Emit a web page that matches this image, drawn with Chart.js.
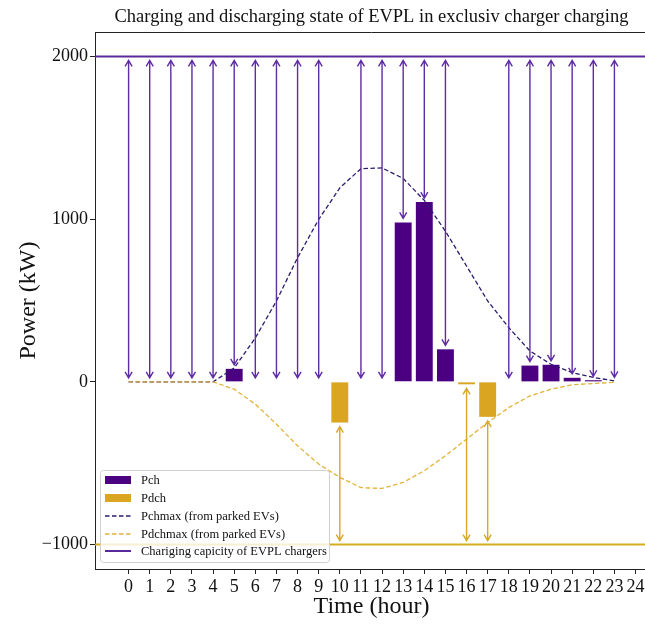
<!DOCTYPE html>
<html>
<head>
<meta charset="utf-8">
<script src="https://cdn.jsdelivr.net/npm/chart.js@4.4.1/dist/chart.umd.min.js"></script>
<style>
  html, body { margin: 0; padding: 0; background: #fff; overflow: hidden; }
</style>
</head>
<body>
<canvas id="chart" width="650" height="624"></canvas>
<script>
const hours = [0, 1, 2, 3, 4, 5, 6, 7, 8, 9, 10, 11, 12, 13, 14, 15, 16, 17, 18, 19, 20, 21, 22, 23];
const pch = [0, 0, 0, 0, 0, 80, 0, 0, 0, 0, 0, 0, 0, 980, 1105, 200, 0, 0, 0, 100, 105, 25, 10, 3];
const pdch = [0, 0, 0, 0, 0, 0, 0, 0, 0, 0, -250, 0, 0, 0, 0, 0, -15, -215, 0, 0, 0, 0, 0, 0];
const pchmax = [0, 0, 0, 0, 0, 85, 270, 497, 763, 998, 1192, 1310, 1315, 1250, 1115, 926, 712, 497, 333, 190, 108, 57, 27, 6];
const pdchmax = [0, 0, 0, 0, 0, -45, -137, -260, -393, -505, -587, -650, -655, -618, -546, -454, -352, -250, -158, -86, -45, -18, -10, -3];
const chargerCapacity = 2000;
const dischargerCapacity = -1000;
const xTicks = Array.from({ length: 25 }, (_, i) => i);
const yTicks = [-1000, 0, 1000, 2000];
const legendLabels = ['Pch', 'Pdch', 'Pchmax (from parked EVs)', 'Pdchmax (from parked EVs)', 'Chariging capicity of EVPL chargers'];
const titleText = 'Charging and discharging state of EVPL in exclusiv charger charging';

const serif = "'Liberation Serif', 'Times New Roman', serif";
const colors = {
  pch: '#4b0082',
  pdch: '#daa520',
  pchmax: '#2e1a6e',
  pdchmax: '#e2b33a',
  arrowCh: '#5e2ca5',
  arrowDch: '#d8a62a',
  capCh: '#5a2a9c',
  capDch: '#d4ae1e',
};

function drawArrow(ctx, x, y1, y2, color) {
  const head = 6, half = 3.5;
  ctx.save();
  ctx.strokeStyle = color;
  ctx.lineWidth = 1.4;
  ctx.beginPath();
  ctx.moveTo(x, y1);
  ctx.lineTo(x, y2);
  const dir = y2 > y1 ? 1 : -1;
  // head at y2
  ctx.moveTo(x - half, y2 - dir * head);
  ctx.lineTo(x, y2);
  ctx.lineTo(x + half, y2 - dir * head);
  // head at y1
  ctx.moveTo(x - half, y1 + dir * head);
  ctx.lineTo(x, y1);
  ctx.lineTo(x + half, y1 + dir * head);
  ctx.stroke();
  ctx.restore();
}

const overlayPlugin = {
  id: 'overlay',
  afterDatasetsDraw(chart) {
    const { ctx, chartArea, scales: { x, y } } = chart;

    // capacity lines
    ctx.save();
    ctx.lineWidth = 2;
    ctx.strokeStyle = colors.capCh;
    ctx.beginPath();
    ctx.moveTo(chartArea.left, y.getPixelForValue(chargerCapacity));
    ctx.lineTo(chartArea.right, y.getPixelForValue(chargerCapacity));
    ctx.stroke();
    ctx.strokeStyle = colors.capDch;
    ctx.beginPath();
    ctx.moveTo(chartArea.left, y.getPixelForValue(dischargerCapacity));
    ctx.lineTo(chartArea.right, y.getPixelForValue(dischargerCapacity));
    ctx.stroke();
    ctx.restore();

    // arrows from capacity to the actual power
    hours.forEach((h, i) => {
      const px = x.getPixelForValue(h);
      if (pdch[i] === 0) {
        drawArrow(ctx, px, y.getPixelForValue(chargerCapacity) + 4, y.getPixelForValue(pch[i]) - 4, colors.arrowCh);
      } else {
        drawArrow(ctx, px, y.getPixelForValue(dischargerCapacity) - 4, y.getPixelForValue(pdch[i]) + 4, colors.arrowDch);
      }
    });

    // top spine
    ctx.save();
    ctx.strokeStyle = '#222';
    ctx.lineWidth = 1;
    ctx.beginPath();
    ctx.moveTo(chartArea.left, chartArea.top + 0.5);
    ctx.lineTo(chartArea.right, chartArea.top + 0.5);
    ctx.stroke();
    ctx.restore();
  },
  afterDraw(chart) {
    const { ctx, chartArea } = chart;

    // title
    ctx.save();
    ctx.fillStyle = '#111';
    ctx.font = `18.5px ${serif}`;
    ctx.textAlign = 'center';
    ctx.textBaseline = 'middle';
    ctx.fillText(titleText, (chartArea.left + chartArea.right) / 2, 17);
    ctx.restore();

    // legend box in the lower left corner
    const bx = chartArea.left + 5, by = 470, bw = 229, bh = 92;
    ctx.save();
    ctx.fillStyle = 'rgba(255,255,255,0.8)';
    ctx.strokeStyle = '#d0d0d0';
    ctx.lineWidth = 1;
    ctx.beginPath();
    ctx.roundRect(bx + 0.5, by + 0.5, bw, bh, 3);
    ctx.fill();
    ctx.stroke();

    ctx.font = `12.5px ${serif}`;
    ctx.textBaseline = 'middle';
    ctx.textAlign = 'left';
    const rowY = [480, 498, 516, 534, 551];
    const hx = bx + 5, hw = 26;
    rowY.forEach((ry, i) => {
      if (i === 0 || i === 1) {
        ctx.fillStyle = i === 0 ? colors.pch : colors.pdch;
        ctx.fillRect(hx, ry - 4, hw, 8);
      } else {
        ctx.strokeStyle = i === 2 ? colors.pchmax : i === 3 ? colors.pdchmax : colors.capCh;
        ctx.lineWidth = i === 4 ? 2 : 1.3;
        ctx.setLineDash(i === 4 ? [] : [4.5, 2.5]);
        ctx.beginPath();
        ctx.moveTo(hx, ry);
        ctx.lineTo(hx + hw, ry);
        ctx.stroke();
        ctx.setLineDash([]);
      }
      ctx.fillStyle = '#111';
      ctx.fillText(legendLabels[i], hx + hw + 10, ry + 1);
    });
    ctx.restore();
  }
};

const ctx = document.getElementById('chart').getContext('2d');
new Chart(ctx, {
  type: 'bar',
  data: {
    datasets: [
      {
        type: 'line',
        label: legendLabels[3],
        data: hours.map((h, i) => ({ x: h, y: pdchmax[i] })),
        borderColor: colors.pdchmax,
        borderWidth: 1.3,
        borderDash: [4.5, 2.5],
        pointRadius: 0,
        tension: 0,
        fill: false,
      },
      {
        type: 'line',
        label: legendLabels[2],
        data: hours.map((h, i) => ({ x: h, y: pchmax[i] })),
        borderColor: colors.pchmax,
        borderWidth: 1.3,
        borderDash: [4.5, 2.5],
        pointRadius: 0,
        tension: 0,
        fill: false,
      },
      {
        label: legendLabels[0],
        data: hours.map((h, i) => ({ x: h, y: pch[i] })),
        backgroundColor: colors.pch,
        grouped: false,
        barPercentage: 0.8,
        categoryPercentage: 1,
      },
      {
        label: legendLabels[1],
        data: hours.map((h, i) => ({ x: h, y: pdch[i] })),
        backgroundColor: colors.pdch,
        grouped: false,
        barPercentage: 0.8,
        categoryPercentage: 1,
      },
    ]
  },
  options: {
    responsive: false,
    animation: false,
    layout: { padding: { top: 32, right: 2, left: 0, bottom: 0 } },
    plugins: {
      legend: { display: false },
      tooltip: { enabled: false },
      title: { display: false },
    },
    scales: {
      x: {
        type: 'linear',
        min: -1.59,
        max: 24.59,
        offset: false,
        afterBuildTicks: (scale) => { scale.ticks = xTicks.map(v => ({ value: v })); },
        afterFit: (scale) => { scale.height = 55; },
        grid: { drawOnChartArea: false, offset: false, color: '#222', tickLength: 5 },
        border: { display: true, color: '#222', width: 1 },
        ticks: {
          autoSkip: false,
          maxRotation: 0,
          padding: 2,
          color: '#111',
          font: { family: serif, size: 18 },
          callback: (v) => String(v),
        },
        title: {
          display: true,
          text: 'Time (hour)',
          color: '#111',
          font: { family: serif, size: 24 },
          padding: { top: 0, bottom: 3 },
        },
      },
      y: {
        min: -1150,
        max: 2150,
        afterBuildTicks: (scale) => { scale.ticks = yTicks.map(v => ({ value: v })); },
        afterFit: (scale) => { scale.width = 95; },
        grid: { drawOnChartArea: false, color: '#222', tickLength: 5 },
        border: { display: true, color: '#222', width: 1 },
        ticks: {
          padding: 2,
          color: '#111',
          font: { family: serif, size: 18 },
          callback: (v) => String(v).replace('-', '\u2212'),
        },
        title: {
          display: true,
          text: 'Power (kW)',
          color: '#111',
          font: { family: serif, size: 24 },
          padding: { top: 14, bottom: 0 },
        },
      },
    },
  },
  plugins: [overlayPlugin],
});
</script>
</body>
</html>
